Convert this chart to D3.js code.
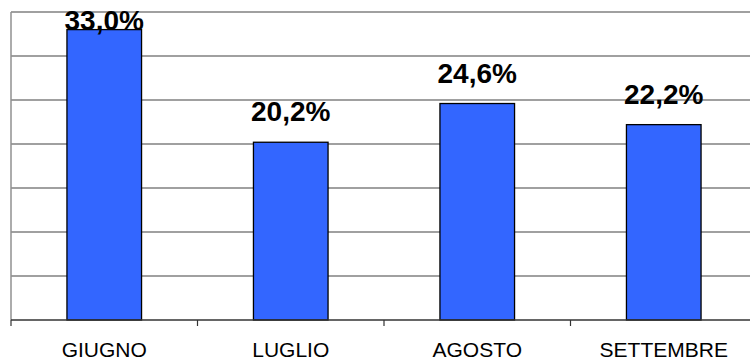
<!DOCTYPE html>
<html>
<head>
<meta charset="utf-8">
<script src="https://cdn.jsdelivr.net/npm/d3@7"></script>
<style>
  html, body { margin: 0; padding: 0; background: #fff; }
  svg { display: block; }
</style>
</head>
<body>
<svg id="chart" width="750" height="360"></svg>
<script>
// Monthly percentages
const months = ["GIUGNO", "LUGLIO", "AGOSTO", "SETTEMBRE"];
const values = [33.0, 20.2, 24.6, 22.2];
const gridValues = [0, 5, 10, 15, 20, 25, 30, 35];

const svg = d3.select("#chart");
const plot = { left: 11, right: 757, top: 12, bottom: 320 };

const x = d3.scaleBand()
  .domain(months)
  .range([plot.left, plot.right])
  .paddingInner(0.6)
  .paddingOuter(0.3);

const y = d3.scaleLinear()
  .domain([0, 35])
  .range([plot.bottom, plot.top]);

const it = d3.formatLocale({ decimal: ",", thousands: ".", grouping: [3], currency: ["", "€"] });
const fmt = it.format(".1f");

// horizontal gridlines
svg.append("g")
  .selectAll("line")
  .data(gridValues.filter(d => d > 0))
  .join("line")
  .attr("x1", plot.left).attr("x2", plot.right)
  .attr("y1", d => y(d)).attr("y2", d => y(d))
  .attr("stroke", "#808080")
  .attr("stroke-width", 1.5);

// left edge of the plot area
svg.append("line")
  .attr("x1", plot.left).attr("x2", plot.left)
  .attr("y1", y(35)).attr("y2", y(0))
  .attr("stroke", "#909090")
  .attr("stroke-width", 1.5);

// bars
svg.append("g")
  .selectAll("rect")
  .data(values)
  .join("rect")
  .attr("x", (d, i) => x(months[i]))
  .attr("y", d => y(d))
  .attr("width", x.bandwidth())
  .attr("height", d => y(0) - y(d))
  .attr("fill", "#3366FF")
  .attr("stroke", "#000")
  .attr("stroke-width", 1.3);

// category axis line and tick marks at band boundaries
svg.append("line")
  .attr("x1", plot.left).attr("x2", plot.right)
  .attr("y1", y(0)).attr("y2", y(0))
  .attr("stroke", "#333")
  .attr("stroke-width", 1.5);

svg.append("g")
  .selectAll("line")
  .data(d3.range(months.length + 1))
  .join("line")
  .attr("x1", i => plot.left + i * x.step())
  .attr("x2", i => plot.left + i * x.step())
  .attr("y1", y(0)).attr("y2", y(0) + 6)
  .attr("stroke", "#333")
  .attr("stroke-width", 1.2);

// category labels
svg.append("g")
  .selectAll("text")
  .data(months)
  .join("text")
  .attr("x", d => x(d) + x.bandwidth() / 2)
  .attr("y", 356.5)
  .attr("text-anchor", "middle")
  .attr("font-family", "Liberation Sans, Arial, sans-serif")
  .attr("font-size", 21)
  .attr("fill", "#000")
  .text(d => d);

// value labels above bars, kept inside the chart area
svg.append("g")
  .selectAll("text")
  .data(values)
  .join("text")
  .attr("x", (d, i) => x(months[i]) + x.bandwidth() / 2)
  .attr("y", d => Math.max(y(d) - 21, 30))
  .attr("text-anchor", "middle")
  .attr("font-family", "Liberation Sans, Arial, sans-serif")
  .attr("font-weight", "bold")
  .attr("font-size", 28)
  .attr("fill", "#000")
  .text(d => fmt(d) + "%");
</script>
</body>
</html>
